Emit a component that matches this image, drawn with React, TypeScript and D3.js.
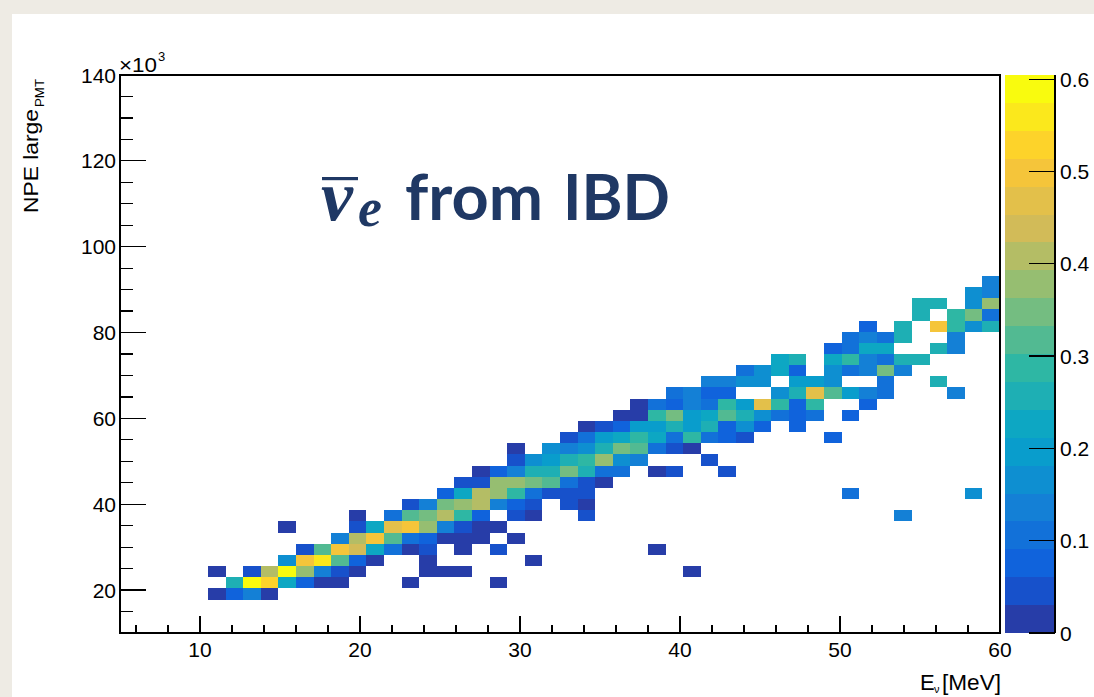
import React from 'react';
import * as d3 from 'd3';

// ---- axis / binning definitions (TH2 with 50 x 50 bins) ----
const eRange = [5, 60];          // E_nu [MeV]
const npeRange = [10, 140];      // NPE large_PMT [x10^3]
const nBinsE = 50;
const nBinsNpe = 50;
const zMax = 0.6045;
const nContours = 20;

const xMajorTicks = [10, 20, 30, 40, 50, 60];
const xMinorTicks = [6, 8, 12, 14, 16, 18, 22, 24, 26, 28, 32, 34, 36, 38, 42, 44, 46, 48, 52, 54, 56, 58];
const yMajorTicks = [20, 40, 60, 80, 100, 120, 140];
const yMinorTicks = [15, 25, 30, 35, 45, 50, 55, 65, 70, 75, 85, 90, 95, 105, 110, 115, 125, 130, 135];
const zTicks = [0, 0.1, 0.2, 0.3, 0.4, 0.5, 0.6];
const zTickLabels = ['0', '0.1', '0.2', '0.3', '0.4', '0.5', '0.6'];

// ROOT kBird palette stops
const birdStops = [0.0, 0.125, 0.25, 0.375, 0.5, 0.625, 0.75, 0.875, 1.0];
const birdRed = [0.2082, 0.0592, 0.078, 0.0232, 0.1802, 0.5301, 0.8186, 0.9956, 0.9764];
const birdGreen = [0.1664, 0.3599, 0.5041, 0.6419, 0.7178, 0.7492, 0.7328, 0.7862, 0.9832];
const birdBlue = [0.5293, 0.8684, 0.8385, 0.7914, 0.6425, 0.4662, 0.3499, 0.1968, 0.0539];

// [E bin index, NPE bin index, bin content]
const ibdCells: [number, number, number][] = [
  [5, 3, 0.015], [6, 3, 0.076], [7, 3, 0.136], [8, 3, 0.015],
  [6, 4, 0.257], [7, 4, 0.589], [8, 4, 0.529], [9, 4, 0.227], [10, 4, 0.076], [11, 4, 0.015], [12, 4, 0.015], [16, 4, 0.015], [21, 4, 0.015],
  [5, 5, 0.015], [7, 5, 0.045], [8, 5, 0.408], [9, 5, 0.589], [10, 5, 0.378], [11, 5, 0.136], [12, 5, 0.045], [13, 5, 0.015], [17, 5, 0.015], [18, 5, 0.015], [19, 5, 0.015], [32, 5, 0.015],
  [9, 6, 0.166], [10, 6, 0.499], [11, 6, 0.559], [12, 6, 0.317], [13, 6, 0.076], [14, 6, 0.015], [17, 6, 0.015], [23, 6, 0.015],
  [10, 7, 0.045], [11, 7, 0.317], [12, 7, 0.499], [13, 7, 0.438], [14, 7, 0.227], [15, 7, 0.106], [16, 7, 0.015], [17, 7, 0.045], [19, 7, 0.015], [21, 7, 0.045], [30, 7, 0.015],
  [12, 8, 0.136], [13, 8, 0.408], [14, 8, 0.499], [15, 8, 0.317], [16, 8, 0.106], [17, 8, 0.076], [18, 8, 0.015], [19, 8, 0.015], [20, 8, 0.015], [22, 8, 0.015],
  [9, 9, 0.015], [13, 9, 0.045], [14, 9, 0.227], [15, 9, 0.469], [16, 9, 0.499], [17, 9, 0.378], [18, 9, 0.136], [19, 9, 0.045], [20, 9, 0.015], [21, 9, 0.015],
  [13, 10, 0.015], [15, 10, 0.106], [16, 10, 0.317], [17, 10, 0.348], [18, 10, 0.408], [19, 10, 0.287], [20, 10, 0.076], [22, 10, 0.045], [23, 10, 0.015], [26, 10, 0.045], [44, 10, 0.136],
  [16, 11, 0.045], [17, 11, 0.136], [18, 11, 0.348], [19, 11, 0.378], [20, 11, 0.408], [21, 11, 0.136], [22, 11, 0.076], [23, 11, 0.045], [25, 11, 0.045], [26, 11, 0.015],
  [18, 12, 0.076], [19, 12, 0.227], [20, 12, 0.408], [21, 12, 0.378], [22, 12, 0.287], [23, 12, 0.106], [24, 12, 0.045], [25, 12, 0.045], [26, 12, 0.045], [41, 12, 0.106], [48, 12, 0.166],
  [19, 13, 0.045], [20, 13, 0.045], [21, 13, 0.378], [22, 13, 0.378], [23, 13, 0.348], [24, 13, 0.317], [25, 13, 0.106], [26, 13, 0.045], [27, 13, 0.015],
  [20, 14, 0.015], [21, 14, 0.076], [22, 14, 0.136], [23, 14, 0.257], [24, 14, 0.257], [25, 14, 0.348], [26, 14, 0.257], [27, 14, 0.106], [28, 14, 0.106], [30, 14, 0.015], [31, 14, 0.045], [34, 14, 0.045],
  [22, 15, 0.045], [23, 15, 0.166], [24, 15, 0.196], [25, 15, 0.257], [26, 15, 0.287], [27, 15, 0.378], [28, 15, 0.166], [29, 15, 0.136], [33, 15, 0.045],
  [22, 16, 0.015], [24, 16, 0.166], [25, 16, 0.136], [26, 16, 0.166], [27, 16, 0.257], [28, 16, 0.348], [29, 16, 0.317], [30, 16, 0.106], [31, 16, 0.045], [32, 16, 0.015],
  [25, 17, 0.045], [26, 17, 0.106], [27, 17, 0.196], [28, 17, 0.227], [29, 17, 0.287], [30, 17, 0.227], [31, 17, 0.106], [32, 17, 0.287], [33, 17, 0.106], [34, 17, 0.076], [35, 17, 0.045], [40, 17, 0.076],
  [26, 18, 0.015], [27, 18, 0.045], [28, 18, 0.076], [29, 18, 0.196], [30, 18, 0.196], [31, 18, 0.257], [32, 18, 0.196], [33, 18, 0.257], [34, 18, 0.076], [35, 18, 0.166], [36, 18, 0.076], [38, 18, 0.076],
  [28, 19, 0.015], [29, 19, 0.015], [30, 19, 0.287], [31, 19, 0.348], [32, 19, 0.196], [33, 19, 0.227], [34, 19, 0.317], [35, 19, 0.257], [36, 19, 0.166], [37, 19, 0.106], [38, 19, 0.076], [39, 19, 0.106], [41, 19, 0.076],
  [29, 20, 0.015], [30, 20, 0.106], [31, 20, 0.076], [32, 20, 0.136], [33, 20, 0.106], [34, 20, 0.287], [35, 20, 0.196], [36, 20, 0.469], [37, 20, 0.287], [38, 20, 0.076], [39, 20, 0.287], [42, 20, 0.076],
  [31, 21, 0.106], [32, 21, 0.136], [33, 21, 0.076], [34, 21, 0.076], [37, 21, 0.166], [38, 21, 0.257], [39, 21, 0.469], [40, 21, 0.317], [41, 21, 0.196], [42, 21, 0.136], [43, 21, 0.106], [47, 21, 0.136],
  [33, 22, 0.136], [34, 22, 0.136], [35, 22, 0.166], [36, 22, 0.166], [38, 22, 0.196], [39, 22, 0.196], [40, 22, 0.166], [43, 22, 0.106], [46, 22, 0.257],
  [35, 23, 0.106], [36, 23, 0.166], [37, 23, 0.227], [38, 23, 0.076], [40, 23, 0.166], [41, 23, 0.106], [42, 23, 0.136], [43, 23, 0.348], [44, 23, 0.136],
  [37, 24, 0.227], [38, 24, 0.257], [40, 24, 0.227], [41, 24, 0.287], [42, 24, 0.136], [43, 24, 0.106], [44, 24, 0.257], [45, 24, 0.257],
  [40, 25, 0.076], [41, 25, 0.106], [42, 25, 0.227], [43, 25, 0.227], [46, 25, 0.257], [47, 25, 0.136],
  [41, 26, 0.106], [42, 26, 0.136], [43, 26, 0.106], [44, 26, 0.257], [47, 26, 0.136],
  [42, 27, 0.076], [44, 27, 0.257], [46, 27, 0.499], [47, 27, 0.287], [48, 27, 0.166], [49, 27, 0.257],
  [45, 28, 0.257], [47, 28, 0.287], [48, 28, 0.348], [49, 28, 0.106],
  [45, 29, 0.257], [46, 29, 0.257], [48, 29, 0.166], [49, 29, 0.378],
  [48, 30, 0.166], [49, 30, 0.136],
  [49, 31, 0.136],
];

const FRAME = { left: 120, top: 75, right: 1000, bottom: 633 };
const PAL = { left: 1005, right: 1055 };
const AXIS_FONT = '"Liberation Sans", Arial, Helvetica, sans-serif';

const birdScale = d3
  .scaleLinear<string>()
  .domain(birdStops)
  .range(birdStops.map((_, k) => d3.rgb(birdRed[k] * 255, birdGreen[k] * 255, birdBlue[k] * 255).formatHex()))
  .interpolate(d3.interpolateRgb)
  .clamp(true);

const contourColor = (k: number) => birdScale(Math.floor(((k + 0.99) * 255) / nContours) / 254);

export default function App() {
  const x = d3.scaleLinear().domain(eRange).range([FRAME.left, FRAME.right]);
  const y = d3.scaleLinear().domain(npeRange).range([FRAME.bottom, FRAME.top]);
  const z = d3.scaleLinear().domain([0, zMax]).range([FRAME.bottom, FRAME.top]);
  const eEdge = (i: number) => eRange[0] + ((eRange[1] - eRange[0]) * i) / nBinsE;
  const nEdge = (j: number) => npeRange[0] + ((npeRange[1] - npeRange[0]) * j) / nBinsNpe;
  const dz = zMax / nContours;
  const bandOf = (w: number) => Math.min(nContours - 1, Math.floor(w / dz));

  const yTickLen = 0.03 * (FRAME.right - FRAME.left);
  const xTickLen = 0.03 * (FRAME.bottom - FRAME.top);

  return (
    <svg
      width={1094}
      height={697}
      style={{ position: 'absolute', left: 0, top: 0, display: 'block' }}
      xmlns="http://www.w3.org/2000/svg"
    >
      <rect x={0} y={0} width={1094} height={697} fill="#EEEBE4" />
      <rect x={12} y={14} width={1082} height={683} fill="#ffffff" />

      {/* histogram cells */}
      <g shapeRendering="crispEdges">
        {ibdCells.map(([i, j, w], idx) => {
          const x0 = x(eEdge(i));
          const x1 = x(eEdge(i + 1));
          const y0 = y(nEdge(j + 1));
          const y1 = y(nEdge(j));
          return (
            <rect key={idx} x={x0} y={y0} width={x1 - x0} height={y1 - y0} fill={contourColor(bandOf(w))} />
          );
        })}
      </g>

      {/* frame */}
      <rect
        x={FRAME.left}
        y={FRAME.top}
        width={FRAME.right - FRAME.left}
        height={FRAME.bottom - FRAME.top}
        fill="none"
        stroke="#000"
        strokeWidth={1.2}
        shapeRendering="crispEdges"
      />

      {/* axis ticks */}
      <g stroke="#000" strokeWidth={1.2} shapeRendering="crispEdges">
        {xMajorTicks.map((t) => (
          <line key={'xM' + t} x1={x(t)} x2={x(t)} y1={FRAME.bottom} y2={FRAME.bottom - xTickLen} />
        ))}
        {xMinorTicks.map((t) => (
          <line key={'xm' + t} x1={x(t)} x2={x(t)} y1={FRAME.bottom} y2={FRAME.bottom - xTickLen / 2} />
        ))}
        {yMajorTicks.map((t) => (
          <line key={'yM' + t} x1={FRAME.left} x2={FRAME.left + yTickLen} y1={y(t)} y2={y(t)} />
        ))}
        {yMinorTicks.map((t) => (
          <line key={'ym' + t} x1={FRAME.left} x2={FRAME.left + yTickLen / 2} y1={y(t)} y2={y(t)} />
        ))}
      </g>

      {/* tick labels */}
      <g fontFamily={AXIS_FONT} fontSize={21} fill="#000">
        {xMajorTicks.map((t) => (
          <text key={'xl' + t} x={x(t)} y={657} textAnchor="middle">
            {t}
          </text>
        ))}
        {yMajorTicks.map((t) => (
          <text key={'yl' + t} x={116} y={y(t) + 7.5} textAnchor="end">
            {t}
          </text>
        ))}
      </g>

      {/* x10^3 */}
      <text x={119} y={72} fontFamily={AXIS_FONT} fontSize={20} textLength={38} lengthAdjust="spacingAndGlyphs">
        ×10
      </text>
      <text x={158} y={61} fontFamily={AXIS_FONT} fontSize={13}>
        3
      </text>

      {/* axis titles */}
      <g transform="translate(38,213) rotate(-90)">
        <text x={0} y={0} fontFamily={AXIS_FONT} fontSize={21} textLength={104} lengthAdjust="spacingAndGlyphs">
          NPE large
        </text>
        <text x={106} y={6} fontFamily={AXIS_FONT} fontSize={12} textLength={28} lengthAdjust="spacingAndGlyphs">
          PMT
        </text>
      </g>
      <g fontFamily={AXIS_FONT} fill="#000">
        <text x={920} y={690} fontSize={22}>
          E
        </text>
        <text x={934} y={693} fontSize={11}>
          ν
        </text>
        <text x={1001} y={690} fontSize={22} textAnchor="end" textLength={59} lengthAdjust="spacingAndGlyphs">
          [MeV]
        </text>
      </g>

      {/* palette (colour bar) */}
      <g shapeRendering="crispEdges">
        {d3.range(nContours).map((k) => (
          <rect
            key={'pal' + k}
            x={PAL.left}
            y={z((k + 1) * dz)}
            width={PAL.right - PAL.left}
            height={z(k * dz) - z((k + 1) * dz)}
            fill={contourColor(k)}
          />
        ))}
        <line x1={PAL.right} x2={PAL.right} y1={FRAME.top} y2={FRAME.bottom} stroke="#000" strokeWidth={1.2} />
        {zTicks.map((t) => (
          <line key={'zt' + t} x1={PAL.right - yTickLen} x2={PAL.right} y1={z(t)} y2={z(t)} stroke="#000" strokeWidth={1.2} />
        ))}
      </g>
      <g fontFamily={AXIS_FONT} fontSize={21} fill="#000">
        {zTicks.map((t, k) => (
          <text key={'zl' + t} x={1060} y={z(t) + 7.5}>
            {zTickLabels[k]}
          </text>
        ))}
      </g>

      {/* annotation */}
      <g fill="#1F3864">
        <rect x={322} y={177} width={36} height={3.2} />
        <text x={321} y={220} fontFamily='"Liberation Serif", "DejaVu Serif", serif' fontStyle="italic" fontWeight="bold" fontSize={72}>
          ν
        </text>
        <text x={358} y={226} fontFamily='"Liberation Serif", "DejaVu Serif", serif' fontStyle="italic" fontWeight="bold" fontSize={54}>
          e
        </text>
        <text x={405} y={220} fontFamily='Lato, "Open Sans", sans-serif' fontWeight="bold" fontSize={64} textLength={138} lengthAdjust="spacingAndGlyphs">
          from
        </text>
        <text x={563} y={220} fontFamily='Lato, "Open Sans", sans-serif' fontWeight="bold" fontSize={64} textLength={107} lengthAdjust="spacingAndGlyphs">
          IBD
        </text>
      </g>
    </svg>
  );
}
